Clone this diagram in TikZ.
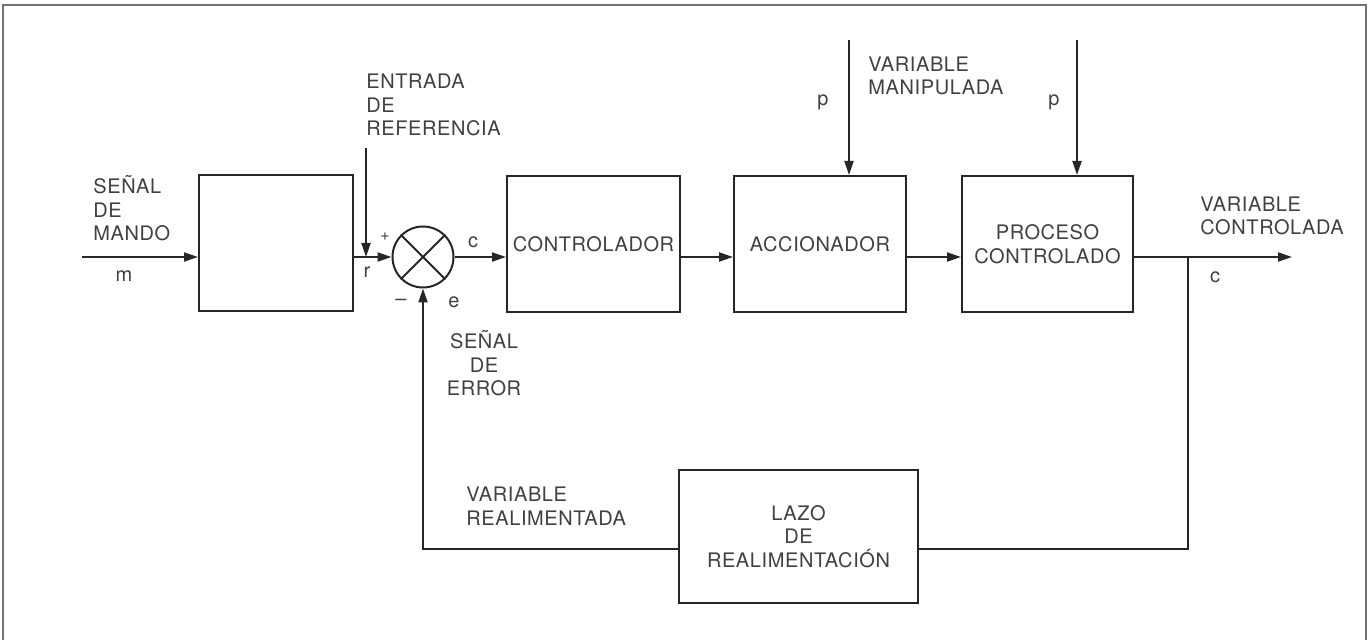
\documentclass[tikz,border=0pt]{standalone}
\usepackage{fontspec}
\setmainfont[LetterSpace=3]{TeX Gyre Heros}
\usetikzlibrary{arrows.meta}
\newcommand\lblfont{\fontsize{10}{11.75}\selectfont}
\begin{document}
\begin{tikzpicture}[x=0.5pt,y=-0.5pt,
  ln/.style={line width=1pt,draw=black!85},
  arr/.style={ln,-{Triangle[length=7pt,width=4.5pt]}},
  blk/.style={ln,rectangle,inner sep=0pt,align=center,font=\lblfont,text=black!75},
  lbl/.style={inner sep=0pt,align=left,font=\lblfont,text=black!75}]
\useasboundingbox (0,0) rectangle (1369,640);
\draw[line width=0.6pt,draw=black!55] (3,640) -- (3,5) -- (1366,5) -- (1366,640);

% blocks
\node[blk,minimum width=77pt,minimum height=68pt] (b1) at (276,243) {};
\node[blk,minimum width=86.5pt,minimum height=68pt] (ctrl) at (593.5,244) {CONTROLADOR};
\node[blk,minimum width=86pt,minimum height=68pt] (acc) at (820,244) {ACCIONADOR};
\node[blk,minimum width=85.5pt,minimum height=68pt] (proc) at (1047.5,244) {PROCESO\\CONTROLADO};
\node[blk,minimum width=119.5pt,minimum height=66.5pt] (lazo) at (798.5,536.5) {LAZO\\DE\\REALIMENTACIÓN};
\node[circle,ln,minimum size=30.5pt,inner sep=0pt] (sum) at (423,257) {};
\draw[ln] (sum.north east) -- (sum.south west) (sum.north west) -- (sum.south east);

% coordinates
\coordinate (yl) at (0,257);
\coordinate (yf) at (0,549);
\coordinate (m0) at (82,257);
\coordinate (r0) at (366,148);
\coordinate (r1) at (366,257);
\coordinate (p1) at (849,40);
\coordinate (p2) at (1077,40);
\coordinate (br) at (1188,257);
\coordinate (out) at (1292,257);

% connectors
\draw[arr] (m0) -- (b1.west |- yl);
\draw[arr] (b1.east |- yl) -- (sum.west);
\draw[arr] (r0) -- (r1);
\draw[arr] (sum.east) -- (ctrl.west |- yl);
\draw[arr] (ctrl.east |- yl) -- (acc.west |- yl);
\draw[arr] (acc.east |- yl) -- (proc.west |- yl);
\draw[arr] (proc.east |- yl) -- (out);
\draw[arr] (p1) -- (p1 |- acc.north);
\draw[arr] (p2) -- (p2 |- proc.north);
\draw[ln] (br) |- (lazo.east |- yf);
\draw[arr] (lazo.west |- yf) -| (sum.south);

% labels (base anchor = baseline of the last line)
\node[lbl,anchor=base west] (tmando) at (93,241) {SEÑAL\\DE\\MANDO};
\node[lbl,anchor=base] (tm) at (124,282) {m};
\node[lbl,anchor=base west] (tref) at (366,136) {ENTRADA\\DE\\REFERENCIA};
\node[lbl,font=\fontsize{8}{9}\selectfont] (tplus) at (385,237) {+};
\node[lbl,anchor=base] (tr) at (367,278) {r};
\node[lbl] (tminus) at (401,302) {–};
\node[lbl,anchor=base] (te) at (454,308) {e};
\node[lbl,anchor=base] (tc) at (473,248) {c};
\node[lbl,anchor=base,align=center] (terr) at (484,396) {SEÑAL\\DE\\ERROR};
\node[lbl,anchor=base west] (tman) at (868,95) {VARIABLE\\MANIPULADA};
\node[lbl,anchor=base] (tp1) at (823,106) {p};
\node[lbl,anchor=base] (tp2) at (1054,106) {p};
\node[lbl,anchor=base west] (tctl) at (1200,235) {VARIABLE\\CONTROLADA};
\node[lbl,anchor=base] (tc2) at (1215,283) {c};
\node[lbl,anchor=base west] (tfb) at (466,525) {VARIABLE\\REALIMENTADA};
\end{tikzpicture}
\end{document}
